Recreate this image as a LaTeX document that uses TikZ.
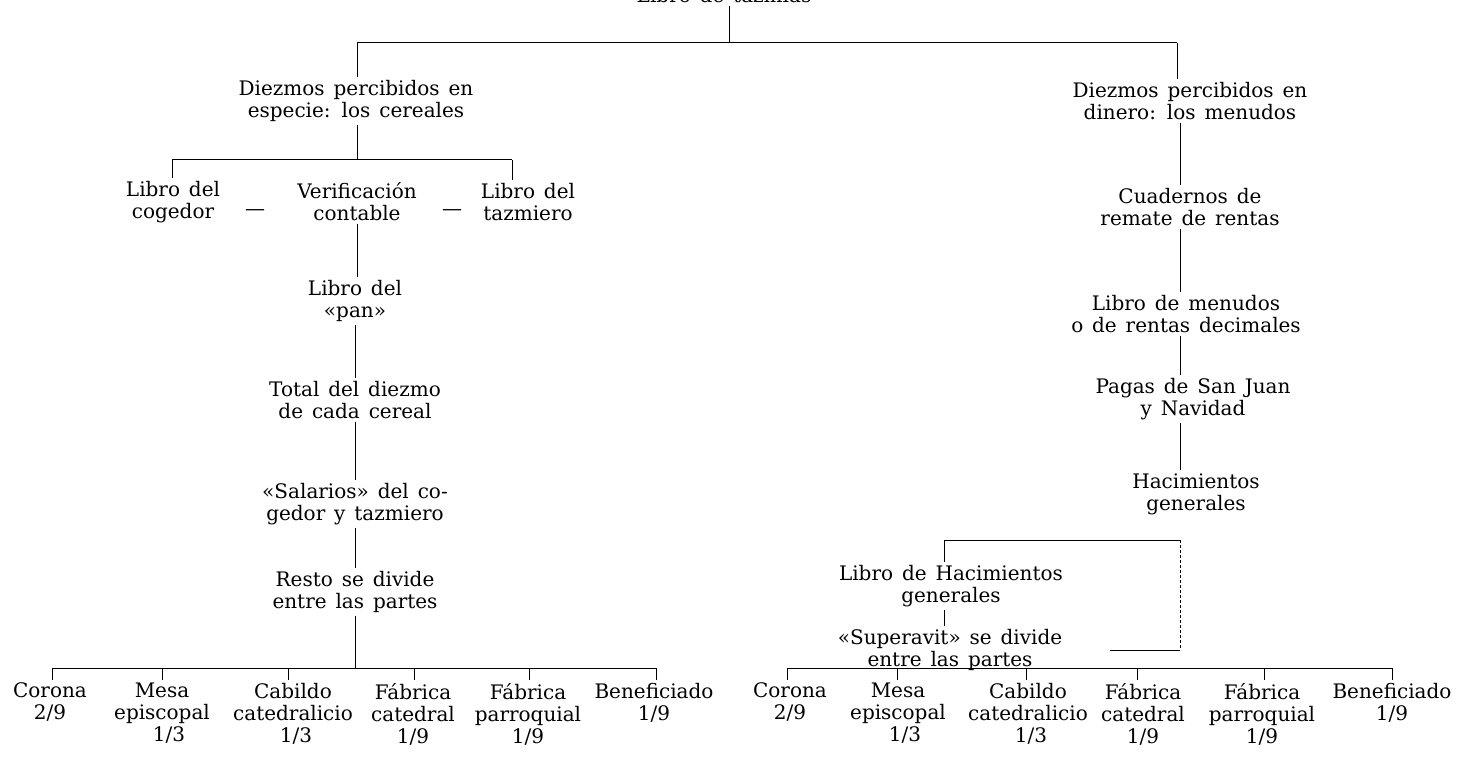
\documentclass[tikz,border=0pt]{standalone}
\usepackage{fontspec}
\setmainfont{DejaVu Serif}[WordSpace=1.4]
\begin{document}
\begin{tikzpicture}[x=1pt,y=-1pt,
  lbl/.style={align=center, inner sep=0pt, outer sep=3pt, font=\fontsize{20}{22}\selectfont},
  bot/.style={lbl, anchor=north},
  conn/.style={line width=1pt, black},
  faint/.style={conn, densely dashed}]
\useasboundingbox (0,0) rectangle (1460,757);
% top (cut off)
\begin{scope}
\clip (0,0) rectangle (1460,757);
\node[lbl, anchor=base, outer sep=0pt] (top) at (724,2.5) {Libro de tazmías};
\end{scope}
\coordinate (tbL) at (357,43);
\coordinate (tbM) at (729,43);
\coordinate (tbR) at (1177,43);
\coordinate (lc) at (355,0);
\coordinate (rc) at (1180,0);
\draw[conn] (top.base -| tbM) ++(0,4) -- (tbM);
\draw[conn] (tbL) -- (tbR);
% ---------- left column
\node[lbl] (L1) at (356,101) {Diezmos percibidos en\\especie: los cereales};
\node[lbl] (LC) at (173,202) {Libro del\\cogedor};
\node[lbl] (V)  at (357,202) {Verificación\\contable};
\node[lbl] (T)  at (528,202) {Libro del\\tazmiero};
\node[lbl] (d1) at (255,213) {—};
\node[lbl] (d2) at (452,213) {—};
\node[lbl] (P)  at (355,301) {Libro del\\«pan»};
\node[lbl] (TD) at (355,400) {Total del diezmo\\de cada cereal};
\node[lbl] (S)  at (355,504) {«Salarios» del co-\\gedor y tazmiero};
\node[lbl] (R)  at (355,592) {Resto se divide\\entre las partes};
\coordinate (b1L) at (172,160);
\coordinate (b1R) at (512,160);
\draw[conn] (tbL) -- (L1.north -| tbL);
\draw[conn] (L1.south -| tbL) -- (b1L -| tbL);
\draw[conn] (b1L) -- (b1R);
\draw[conn] (b1L) -- (LC.north -| b1L);
\draw[conn] (b1R) -- (T.north -| b1R);
\draw[conn] (V.south -| tbL) -- (P.north -| tbL);
\draw[conn] (P.south -| lc) -- (TD.north -| lc);
\draw[conn] (TD.south -| lc) -- (S.north -| lc);
\draw[conn] (S.south -| lc) -- (R.north -| lc);
\coordinate (b2L) at (52,668);
\coordinate (b2R) at (656,668);
\draw[conn] (R.south -| lc) -- (b2L -| lc);
\draw[conn] (b2L) -- (b2R);
\node[bot] (a1) at (50,680) {Corona\\2/9};
\node[bot] (a2) at (162,680) {Mesa\\episcopal\\\hspace*{14pt}1/3};
\node[bot] (a3) at (293,680) {Cabildo\\catedralicio\\\hspace*{6pt}1/3};
\node[bot] (a4) at (413,680) {Fábrica\\catedral\\1/9};
\node[bot] (a5) at (528,680) {Fábrica\\parroquial\\1/9};
\node[bot] (a6) at (654,680) {Beneficiado\\1/9};
\foreach \n/\x in {a1/52,a2/162,a3/288,a4/414,a5/529,a6/656}
  \draw[conn] (\x,668) -- (\n.north -| \x,668);
% ---------- right column
\node[lbl] (RD) at (1190,101) {Diezmos percibidos en\\dinero: los menudos};
\node[lbl] (C)  at (1190,207) {Cuadernos de\\remate de rentas};
\node[lbl] (LM) at (1186,314) {Libro de menudos\\o de rentas decimales};
\node[lbl] (PG) at (1193,399) {Pagas de San Juan\\y Navidad};
\node[lbl] (H)  at (1196,494) {Hacimientos\\generales};
\node[lbl] (LH) at (951,586) {Libro de Hacimientos\\generales};
\node[lbl] (SU) at (950,650) {«Superavit» se divide\\entre las partes};
\draw[conn] (tbR) -- (RD.north -| tbR);
\draw[conn] (RD.south -| rc) -- (C.north -| rc);
\draw[conn] (C.south -| rc) -- (LM.north -| rc);
\draw[conn] (LM.south -| rc) -- (PG.north -| rc);
\draw[conn] (PG.south -| rc) -- (H.north -| rc);
\coordinate (hbL) at (944,540);
\coordinate (hbR) at (1180,540);
\coordinate (sh) at (1110,650);
\draw[conn] (hbL) -- (hbR);
\draw[conn] (hbL) -- (LH.north -| hbL);
\draw[conn] (LH.south -| hbL) -- (SU.north -| hbL);
\draw[faint] (hbR) -- (hbR |- sh);
\draw[conn] (sh) -- (hbR |- sh);
\coordinate (b3L) at (787,668);
\coordinate (b3R) at (1392,668);
\draw[conn] (b3L) -- (b3R);
\node[bot] (c1) at (790,680) {Corona\\2/9};
\node[bot] (c2) at (898,680) {Mesa\\episcopal\\\hspace*{14pt}1/3};
\node[bot] (c3) at (1028,680) {Cabildo\\catedralicio\\\hspace*{6pt}1/3};
\node[bot] (c4) at (1143,680) {Fábrica\\catedral\\1/9};
\node[bot] (c5) at (1262,680) {Fábrica\\parroquial\\1/9};
\node[bot] (c6) at (1392,680) {Beneficiado\\1/9};
\foreach \n/\x in {c1/787,c2/897,c3/1026,c4/1137,c5/1264,c6/1392}
  \draw[conn] (\x,668) -- (\n.north -| \x,668);
\end{tikzpicture}
\end{document}
